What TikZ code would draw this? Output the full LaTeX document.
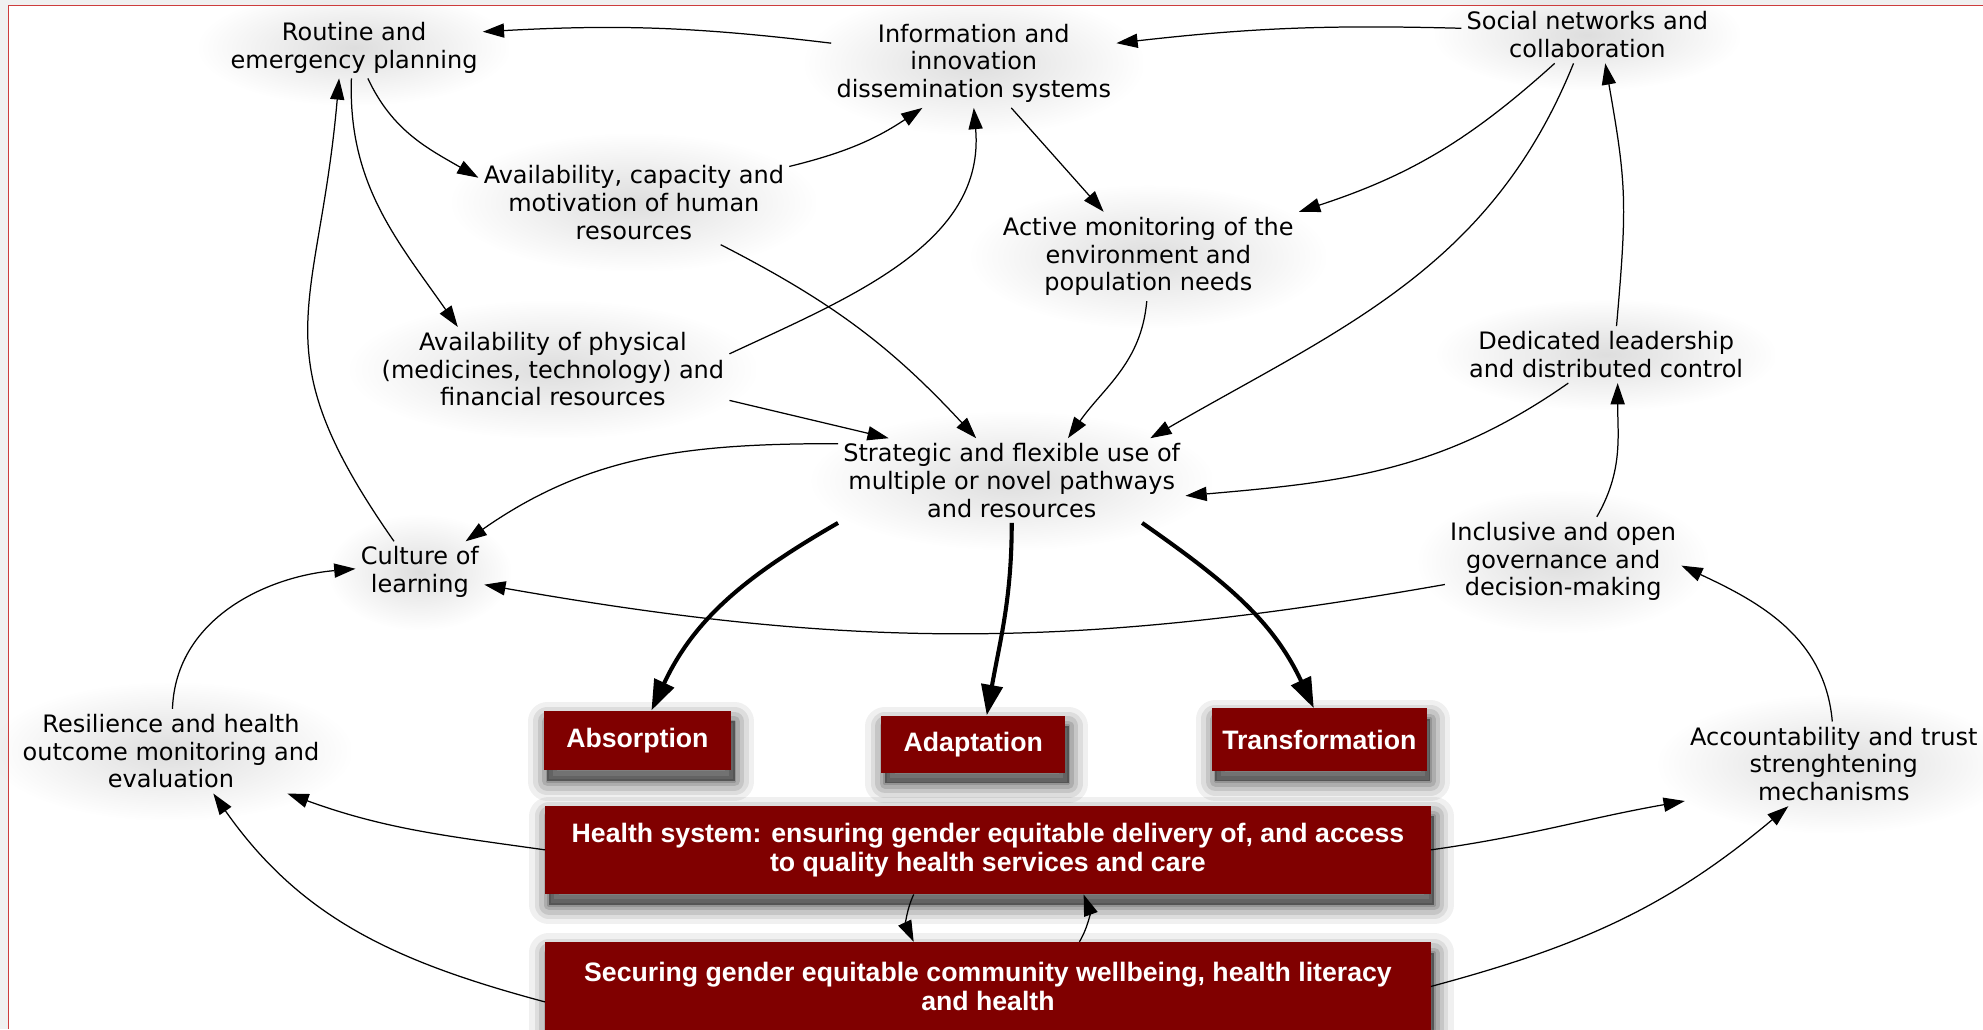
\documentclass[tikz,border=0pt]{standalone}
\usepackage{fontspec}
\setmainfont{DejaVu Sans}
\newfontfamily\boxfont{Liberation Sans}
\definecolor{hsred}{RGB}{128,0,0}
\definecolor{framered}{RGB}{205,60,60}
\definecolor{framegray}{RGB}{240,240,240}
\usetikzlibrary{arrows.meta,positioning,fadings}

\tikzfading[name=softglow, inner color=transparent!0, outer color=transparent!100]

\tikzset{
  factor/.style={align=center, inner sep=18pt, outer sep=-15pt,
    font=\fontsize{13.5}{15.6}\selectfont,
    preaction={fill=black!13, path fading=softglow}},
  shadowring/.style 2 args={preaction={draw=black, fill=black, draw opacity=#2, fill opacity=#2,
      line width=#1, line join=round, transform canvas={shift={(2pt,-6pt)}}}},
  softshadow/.style={shadowring={22pt}{0.06}, shadowring={16pt}{0.08}, shadowring={11pt}{0.1},
    shadowring={6pt}{0.12}, shadowring={2pt}{0.14}},
  outcome/.style={softshadow, fill=hsred, text=white, align=center, inner sep=0pt,
    font=\boxfont\bfseries\fontsize{15}{16.5}\selectfont},
  link/.style={line width=0.7pt, -{Triangle[length=0.42cm, width=0.28cm]}},
  biglink/.style={line width=2.3pt, -{Triangle[length=0.6cm, width=0.42cm]}}
}

\begin{document}
\begin{tikzpicture}
  \useasboundingbox (0,0) rectangle (39.2,20.35);
  \fill[framegray] (0,0) rectangle (39.2,20.35);
  \fill[white] (0.16,0) rectangle (39.2,20.25);

  %--- Capacity factors ---
  \node[factor] (rout) at (7.00,19.41) {Routine and\\emergency planning};
  \node[factor] (info) at (19.25,19.10) {Information and\\innovation\\dissemination systems};
  \node[factor] (soc) at (31.38,19.66) {Social networks and\\collaboration};
  \node[factor] (hum) at (12.53,16.35) {Availability, capacity and\\motivation of human\\resources};
  \node[factor] (mon) at (22.70,15.28) {Active monitoring of the\\environment and\\population needs};
  \node[factor] (phys) at (10.93,13.05) {Availability of physical\\(medicines, technology) and\\financial resources};
  \node[factor] (lead) at (31.75,13.34) {Dedicated leadership\\and distributed control};
  \node[factor] (strat) at (20.00,10.85) {Strategic and flexible use of\\multiple or novel pathways\\and resources};
  \node[factor] (cult) at (8.30,9.04) {Culture of\\learning};
  \node[factor] (incl) at (30.90,9.25) {Inclusive and open\\governance and\\decision-making};
  \node[factor] (res) at (3.38,5.50) {Resilience and health\\outcome monitoring and\\evaluation};
  \node[factor] (acc) at (36.25,5.25) {Accountability and trust\\strenghtening\\mechanisms};

  %--- Resilience capacities ---
  \node[outcome, minimum width=3.70cm, minimum height=1.18cm] (abs) at (12.60,5.71) {Absorption};
  \node[outcome, minimum width=3.63cm, minimum height=1.13cm] (adap) at (19.24,5.64) {Adaptation};
  \node[outcome, minimum width=4.25cm, minimum height=1.23cm] (trans) at (26.08,5.73) {Transformation};

  %--- System layers ---
  \node[outcome, minimum width=17.5cm, minimum height=1.75cm] (hs) at (19.53,3.55) {Health system: ensuring gender equitable delivery of, and access\\to quality health services and care};
  \node[outcome, minimum width=17.5cm, minimum height=1.75cm] (com) at (19.53,0.85) {Securing gender equitable community wellbeing, health literacy\\and health};

  %--- Links between factors ---
  \draw[link] (info.172) to[bend right=5] (rout.7);
  \draw[link] (soc.177) to[bend right=4] (info.8);
  \draw[link] (rout.-66) to[out=-65, in=150] (hum.171);
  \draw[link] (rout.-95) to[out=-92, in=125] (phys.156);
  \draw[link] (cult.130) to[out=125, in=-95, looseness=1.3] (rout.-116);
  \draw[link] (hum.13) to[bend right=10] (info.-139);
  \draw[link] (phys.5) to[out=25, in=-85] (info.-90);
  \draw[link] (info.-50) -- (mon.135);
  \draw[link] (soc.-139) to[bend left=12] (mon.north east);
  \draw[link] (soc.-116) to[out=-112, in=30] (strat.17);
  \draw[link] (lead.70) to[out=85, in=-80, looseness=1.2] (soc.-58);
  \draw[link] (hum.-26) to[bend left=10] (strat.130);
  \draw[link] (phys.-10) -- (strat.161);
  \draw[link] (mon.-92) to[out=-95, in=55] (strat.37);
  \draw[link] (lead.-143) to[out=-145, in=5] (strat.-5);
  \draw[link] (incl.53) to[out=60, in=-90] (lead.-68);
  \draw[link] (strat.168) to[out=180, in=35] (cult.34);
  \draw[link] (incl.191) to[out=190, in=-10] (cult.-11);
  \draw[link] (res.88) to[out=88, in=185] (cult.177);
  \draw[link] (acc.92) to[out=95, in=-25] (incl.-2);

  % Strategic use feeds the capacities
  \draw[biglink] (strat.south west) to[out=-150, in=65] (abs.65);
  \draw[biglink] (strat.-90) to[out=-90, in=80] (adap.65);
  \draw[biglink] (strat.-18) to[out=-35, in=115] (trans.100);

  % Layers feed monitoring and accountability
  \draw[link] (hs.west) to[out=172, in=-20] (res.-20);
  \draw[link] (hs.east) to[out=8, in=190] (acc.194);
  \draw[link] (com.182) to[out=165, in=-55] (res.-45);
  \draw[link] (com.east) to[out=15, in=-140] (acc.-137);
  \draw[link] (hs.211) to[bend right=25] (com.149);
  \draw[link] (com.26) to[bend right=25] (hs.-25);

  % frame
  \draw[framered, line width=0.6pt] (0.16,0) -- (0.16,20.25) -- (39.2,20.25);
\end{tikzpicture}
\end{document}
